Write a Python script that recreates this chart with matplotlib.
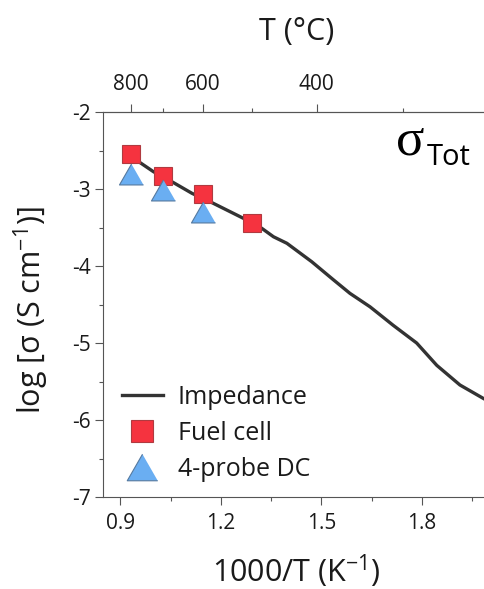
import numpy as np
import matplotlib
matplotlib.use("Agg")
import matplotlib.pyplot as plt
from matplotlib.ticker import MultipleLocator

# impedance curve
imp_x = [0.935, 0.955, 0.999, 1.054, 1.114, 1.168, 1.267, 1.322, 1.357, 1.397,
         1.471, 1.536, 1.585, 1.645, 1.714, 1.784, 1.844, 1.913, 1.983, 2.0]
imp_y = [-2.58, -2.645, -2.775, -2.905, -3.056, -3.165, -3.38, -3.51, -3.62, -3.705,
         -3.944, -4.18, -4.355, -4.53, -4.77, -5.00, -5.29, -5.545, -5.72, -5.76]

# fuel cell and 4-probe DC points, measured at these temperatures (°C)
fc_T = [800, 700, 600, 500]
fc_y = [-2.545, -2.83, -3.065, -3.44]
dc_T = [800, 700, 600]
dc_y = [-2.81, -3.01, -3.30]

top_major_T = [800, 600, 400]
top_minor_T = [700, 500, 300]


def inv_T(tc):
    return [1000.0 / (t + 273.15) for t in tc]


plt.rcParams["font.family"] = ["Open Sans", "DejaVu Sans"]
plt.rcParams["mathtext.fontset"] = "custom"
plt.rcParams["mathtext.rm"] = "Open Sans"
plt.rcParams["axes.unicode_minus"] = False

axis_col = "#555555"
text_col = "#1a1a1a"

fig = plt.figure(figsize=(4.85, 5.89), dpi=100)
ax = fig.add_axes([0.2134, 0.1562, 0.795, 0.6536])

ax.plot(imp_x, imp_y, color="#333333", lw=2.4, label="Impedance", zorder=2)
ax.plot(inv_T(fc_T), fc_y, ls="none", marker="s", ms=13, mfc="#f5333f",
        mec="#b03a40", mew=0.8, label="Fuel cell", zorder=3)
tri = [(0, 0.87), (-1, -0.87), (1, -0.87)]
ax.plot(inv_T(dc_T), dc_y, ls="none", marker=tri, ms=17.3, mfc="#6aaef2",
        mec="#55799f", mew=0.8, label="4-probe DC", zorder=4)

ax.set_xlim(0.85, 2.0)
ax.set_ylim(-7, -2)
ax.set_xticks([0.9, 1.2, 1.5, 1.8])
ax.set_xticks([1.05, 1.35, 1.65, 1.95], minor=True)
ax.yaxis.set_major_locator(MultipleLocator(1))
ax.yaxis.set_minor_locator(MultipleLocator(0.5))

ax.spines["right"].set_visible(False)
for s in ["left", "bottom", "top"]:
    ax.spines[s].set_color(axis_col)
    ax.spines[s].set_linewidth(0.8)
ax.tick_params(which="both", direction="out", color=axis_col, width=0.8,
               labelsize=15, labelcolor=text_col)
ax.tick_params(which="major", length=5.5)
ax.tick_params(which="minor", length=3)
ax.tick_params(axis="x", pad=6)
ax.tick_params(axis="y", pad=3.5)

ax.set_xlabel(r"1000/T (K$\mathregular{^{-1}}$)", fontsize=22, color=text_col, labelpad=13)
ax.set_ylabel(r"log [σ (S cm$\mathregular{^{-1}}$)]", fontsize=22, color=text_col)
ax.yaxis.set_label_coords(-0.135, 0.485)

# top axis in °C
ax2 = ax.twiny()
ax2.set_xlim(ax.get_xlim())
ax2.set_xticks(inv_T(top_major_T))
ax2.set_xticklabels([str(t) for t in top_major_T])
ax2.set_xticks(inv_T(top_minor_T), minor=True)
for s in ["left", "right", "bottom"]:
    ax2.spines[s].set_visible(False)
ax2.spines["top"].set_color(axis_col)
ax2.spines["top"].set_linewidth(0.8)
ax2.tick_params(which="both", direction="out", color=axis_col, width=0.8,
                labelsize=15, labelcolor=text_col, pad=7)
ax2.tick_params(which="major", length=5.5)
ax2.tick_params(which="minor", length=3)
ax2.set_xlabel("T (°C)", fontsize=22, color=text_col, labelpad=24)

ax.legend(loc="upper left", bbox_to_anchor=(0.047, 0.292), borderaxespad=0,
          borderpad=0, frameon=False, fontsize=18, handlelength=1.64,
          handletextpad=0.6, labelspacing=0.44, markerscale=1.27,
          labelcolor=text_col)

fig.text(396 / 485, 1 - 155 / 589, "σ", fontsize=38, family=["Liberation Serif"],
         ha="left", va="baseline", color="black")
fig.text(427 / 485, 1 - 165 / 589, "Tot", fontsize=21, ha="left", va="baseline",
         color="black")

fig.savefig("out.png", dpi=100)
